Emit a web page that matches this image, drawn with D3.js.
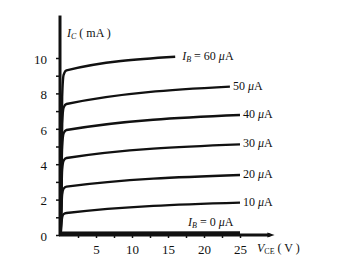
<!DOCTYPE html>
<html>
<head>
<meta charset="utf-8">
<script src="https://cdn.jsdelivr.net/npm/d3@7"></script>
<style>
  body { margin: 0; background: #fff; }
  svg { display: block; font-family: "Liberation Serif", "DejaVu Serif", serif; }
  .tick text { font-size: 13px; fill: #111; font-family: "Liberation Serif", "DejaVu Serif", serif; }
</style>
</head>
<body>
<svg id="chart" width="337" height="273"></svg>
<script>
// --- data ---
var ibValues = [60, 50, 40, 30, 20, 10, 0];          // base current, uA
// each curve: [Vce (V), Ic (mA)]
var curve60 = [[0.1, 0], [0.3, 7.8], [0.5, 9.05], [0.9, 9.3], [16, 10.07]];
var curve50 = [[0.1, 0], [0.3, 6.3], [0.5, 7.2], [0.9, 7.4], [23.6, 8.38]];
var curve40 = [[0.1, 0], [0.3, 5.0], [0.5, 5.75], [0.9, 5.93], [25, 6.78]];
var curve30 = [[0.1, 0], [0.3, 3.7], [0.5, 4.2], [0.9, 4.35], [25, 5.12]];
var curve20 = [[0.1, 0], [0.3, 2.3], [0.5, 2.62], [0.9, 2.73], [25, 3.39]];
var curve10 = [[0.1, 0], [0.3, 1.0], [0.5, 1.18], [0.9, 1.24], [25, 1.83]];
var curve0  = [[0, 0.1], [25, 0.12]];
var curves = [curve60, curve50, curve40, curve30, curve20, curve10, curve0];

var yTicks = [0, 1, 2, 3, 4, 5, 6, 7, 8, 9, 10];
var yLabels = [0, 2, 4, 6, 8, 10];
var xTicks = [2.5, 5, 7.5, 10, 12.5, 15, 17.5, 20, 22.5, 25];
var xLabels = [5, 10, 15, 20, 25];

var svg = d3.select("#chart");
var x = d3.scaleLinear().domain([0, 25]).range([60, 240]);
var y = d3.scaleLinear().domain([0, 10]).range([235, 58]);

// y axis
var yAxis = d3.axisLeft(y)
  .tickValues(yTicks)
  .tickSize(4)
  .tickPadding(9)
  .tickFormat(function(d) { return yLabels.indexOf(d) >= 0 ? d : ""; });
var gy = svg.append("g").attr("transform", "translate(" + x(0) + ",0)").call(yAxis);
gy.attr("font-family", null).attr("font-size", null);
gy.select(".domain").remove();
gy.selectAll(".tick line").attr("stroke", "#111").attr("stroke-width", 1.5);
gy.selectAll(".tick text").attr("dy", "0.4em");

// x axis
var xAxis = d3.axisBottom(x)
  .tickValues(xTicks)
  .tickSize(3)
  .tickPadding(7)
  .tickFormat(function(d) { return xLabels.indexOf(d) >= 0 ? d : ""; });
var gx = svg.append("g").attr("transform", "translate(0," + y(0) + ")").call(xAxis);
gx.attr("font-family", null).attr("font-size", null);
gx.select(".domain").remove();
gx.selectAll(".tick line").attr("stroke", "#111").attr("stroke-width", 1.5);

// axis lines
svg.append("line")
  .attr("x1", x(0)).attr("y1", y(0) + 1)
  .attr("x2", x(0)).attr("y2", y(12.4))
  .attr("stroke", "#111").attr("stroke-width", 3);
svg.append("line")
  .attr("x1", x(0) - 1).attr("y1", y(0))
  .attr("x2", x(29.2)).attr("y2", y(0))
  .attr("stroke", "#111").attr("stroke-width", 3);
// arrow head on x axis
svg.append("path")
  .attr("d", "M" + x(28.8) + "," + (y(0) - 2.5) + "L" + x(29.8) + "," + y(0) + "L" + x(28.8) + "," + (y(0) + 2.5) + "Z")
  .attr("fill", "#111");

// curves
var line = d3.line()
  .x(function(d) { return x(d[0]); })
  .y(function(d) { return y(d[1]); })
  .curve(d3.curveMonotoneX);

svg.selectAll(".ic")
  .data(curves)
  .enter().append("path")
  .attr("class", "ic")
  .attr("d", line)
  .attr("fill", "none")
  .attr("stroke", "#111")
  .attr("stroke-width", function(d, i) { return i == 6 ? 3.5 : 2.4; });

// curve labels
function ibLabel(t, val, withName) {
  if (withName) {
    t.append("tspan").attr("font-style", "italic").text("I");
    t.append("tspan").attr("font-style", "italic").attr("font-size", "8px").attr("dy", 2).text("B");
    t.append("tspan").attr("dy", -2).text(" = " + val + " ");
  } else {
    t.append("tspan").text(val + " ");
  }
  t.append("tspan").attr("font-style", "italic").text("μ");
  t.append("tspan").text("A");
}

svg.selectAll(".iblab")
  .data(ibValues)
  .enter().append("text")
  .attr("class", "iblab")
  .attr("font-size", "12px")
  .attr("fill", "#111")
  .attr("x", function(d, i) {
    var last = curves[i][curves[i].length - 1];
    if (d == 0) return x(25) - 52;
    return x(last[0]) + (d == 60 ? 7 : 3);
  })
  .attr("y", function(d, i) {
    var last = curves[i][curves[i].length - 1];
    if (d == 0) return y(0) - 9;
    return y(last[1]) + 3;
  })
  .each(function(d) { ibLabel(d3.select(this), d, d == 60 || d == 0); });

// axis titles
var ty = svg.append("text").attr("x", 67).attr("y", 37).attr("font-size", "12px").attr("fill", "#111");
ty.append("tspan").attr("font-style", "italic").text("I");
ty.append("tspan").attr("font-style", "italic").attr("font-size", "8px").attr("dy", 2).text("C");
ty.append("tspan").attr("dy", -2).text(" ( mA )");

var tx = svg.append("text").attr("x", 257).attr("y", 252).attr("font-size", "12px").attr("fill", "#111");
tx.append("tspan").attr("font-style", "italic").text("V");
tx.append("tspan").attr("font-size", "8px").attr("dy", 2).text("CE");
tx.append("tspan").attr("dy", -2).text(" ( V )");
</script>
</body>
</html>
